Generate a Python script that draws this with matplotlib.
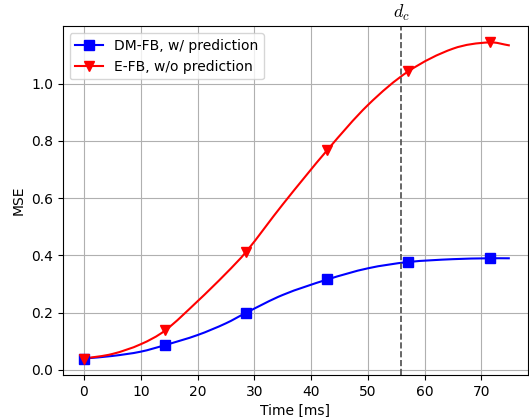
import matplotlib
matplotlib.use("Agg")
import matplotlib.pyplot as plt
from matplotlib.path import Path
from matplotlib.patches import PathPatch

plt.rcParams['mathtext.fontset'] = 'cm'

# Marker samples
t_markers = [0.0, 14.29, 28.57, 42.86, 57.14, 71.43]
dm_markers = [0.040, 0.087, 0.200, 0.316, 0.377, 0.390]
efb_markers = [0.040, 0.138, 0.413, 0.768, 1.043, 1.144]

# Smooth curves
t_curve = [0, 5, 10, 14.29, 20, 25, 28.57, 35, 42.86, 50,
           57.14, 65, 71.43, 75]
dm_curve = [0.040, 0.049, 0.064, 0.087, 0.122, 0.163, 0.200,
            0.262, 0.316, 0.355, 0.377, 0.387, 0.390, 0.390]
efb_curve = [0.040, 0.056, 0.090, 0.138, 0.240, 0.337, 0.413,
             0.578, 0.768, 0.925, 1.043, 1.122, 1.144, 1.133]

d_c = 55.9


def smooth_path(xs, ys):
    """Catmull-Rom rendering of the read points as cubic Bezier segments."""
    verts = [(xs[0], ys[0])]
    codes = [Path.MOVETO]
    n = len(xs)
    for i in range(n - 1):
        x0, y0 = (xs[i - 1], ys[i - 1]) if i > 0 else (xs[i], ys[i])
        x1, y1 = xs[i], ys[i]
        x2, y2 = xs[i + 1], ys[i + 1]
        x3, y3 = (xs[i + 2], ys[i + 2]) if i + 2 < n else (xs[i + 1], ys[i + 1])
        h = x2 - x1
        m1 = (y2 - y0) / (x2 - x0)
        m2 = (y3 - y1) / (x3 - x1)
        verts += [(x1 + h / 3, y1 + m1 * h / 3),
                  (x2 - h / 3, y2 - m2 * h / 3),
                  (x2, y2)]
        codes += [Path.CURVE4] * 3
    return Path(verts, codes)


fig = plt.figure(figsize=(5.29, 4.17), dpi=100)
ax = fig.add_axes([0.1185, 0.1007, 0.8796, 0.8362])

ax.add_patch(PathPatch(smooth_path(t_curve, dm_curve), facecolor='none',
                       edgecolor='blue', lw=1.5, zorder=2))
ax.add_patch(PathPatch(smooth_path(t_curve, efb_curve), facecolor='none',
                       edgecolor='red', lw=1.5, zorder=2))
ax.plot(t_markers, dm_markers, 's', color='blue', ms=7, zorder=3)
ax.plot(t_markers, efb_markers, 'v', color='red', ms=7, zorder=3)

# legend proxies
ax.plot([], [], 's-', color='blue', ms=7, lw=1.5, label='DM-FB, w/ prediction')
ax.plot([], [], 'v-', color='red', ms=7, lw=1.5, label='E-FB, w/o prediction')

ax.axvline(d_c, color='0.3', ls='--', lw=1.2)
ax.text(d_c, 1.025, r'$d_c$', transform=ax.get_xaxis_transform(),
        ha='center', va='baseline', fontsize=13)

ax.set_xlim(-3.75, 78.2)
ax.set_ylim(-0.0175, 1.2)
ax.set_xticks([0, 10, 20, 30, 40, 50, 60, 70])
ax.set_yticks([0.0, 0.2, 0.4, 0.6, 0.8, 1.0])
ax.grid(True)
ax.set_xlabel('Time [ms]')
ax.set_ylabel('MSE')
ax.legend(loc='upper left')

fig.savefig('out.png', dpi=100)
